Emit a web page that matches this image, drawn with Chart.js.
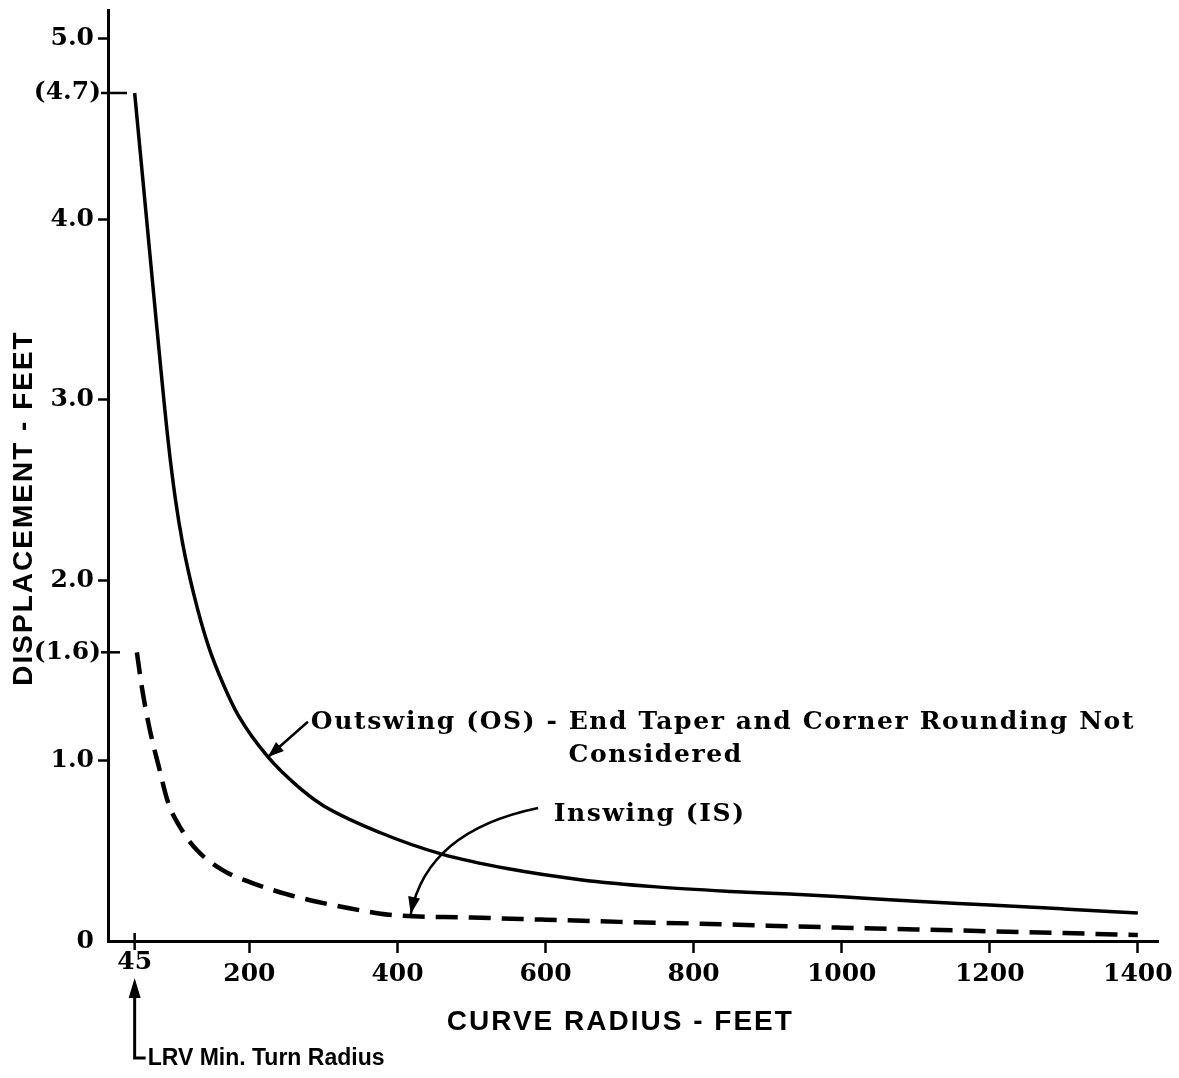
<!DOCTYPE html>
<html>
<head>
<meta charset="utf-8">
<script src="https://cdn.jsdelivr.net/npm/chart.js@4.4.1/dist/chart.umd.min.js"></script>
<style>
  html, body { margin: 0; padding: 0; background: #fff; }
  #wrap { width: 1179px; height: 1078px; }
</style>
</head>
<body>
<div id="wrap"><canvas id="chart" width="1179" height="1078"></canvas></div>
<script>
// curve radius (feet) -> displacement (feet)
const outswingRadius = [45, 60, 75, 90, 100, 110, 125, 145, 165, 185, 225, 270, 300, 377, 461, 550, 647, 750, 850, 930, 1000, 1100, 1200, 1300, 1400];
const outswingDisp   = [4.7, 4.05, 3.4, 2.78, 2.45, 2.2, 1.92, 1.63, 1.42, 1.25, 1.02, 0.84, 0.75, 0.6, 0.48, 0.4, 0.34, 0.3, 0.275, 0.26, 0.245, 0.22, 0.2, 0.178, 0.155];

const inswingRadius = [48, 55, 65, 78, 90, 108, 130, 165, 205, 250, 300, 350, 389, 500, 600, 700, 800, 900, 1000, 1100, 1200, 1300, 1400];
const inswingDisp   = [1.6, 1.4, 1.18, 0.96, 0.77, 0.62, 0.5, 0.39, 0.32, 0.26, 0.21, 0.17, 0.145, 0.13, 0.118, 0.106, 0.097, 0.085, 0.074, 0.064, 0.054, 0.044, 0.033];

const xTickValues = [45, 200, 400, 600, 800, 1000, 1200, 1400];
const yTickValues = [0, 1, 1.6, 2, 3, 4, 4.7, 5];
const yTickLabels = ["0", "1.0", "(1.6)", "2.0", "3.0", "4.0", "(4.7)", "5.0"];
const bracketTicks = [1.6, 4.7];
const minTurnRadius = 45;

const serif = "'DejaVu Serif', serif";
const sans = "'Liberation Sans', Arial, sans-serif";

function arrowHead(ctx, fx, fy, tx, ty, len, half) {
    let a = Math.atan2(ty - fy, tx - fx);
    ctx.beginPath();
    ctx.moveTo(tx, ty);
    ctx.lineTo(tx - len * Math.cos(a) + half * Math.sin(a), ty - len * Math.sin(a) - half * Math.cos(a));
    ctx.lineTo(tx - len * Math.cos(a) - half * Math.sin(a), ty - len * Math.sin(a) + half * Math.cos(a));
    ctx.closePath();
    ctx.fill();
}

const notes = {
    id: "notes",
    afterDraw(chart) {
        const ctx = chart.ctx;
        const xs = chart.scales.x, ys = chart.scales.y;
        const area = chart.chartArea;
        ctx.save();
        ctx.strokeStyle = "#000";
        ctx.fillStyle = "#000";

        // bracketed ticks cross into the plot, labels sit closer to the axis
        ctx.lineWidth = 2.5;
        ctx.font = "bold 25px " + serif;
        ctx.textAlign = "right";
        ctx.textBaseline = "middle";
        bracketTicks.forEach((v, i) => {
            let py = ys.getPixelForValue(v);
            ctx.beginPath();
            ctx.moveTo(area.left - 7, py);
            ctx.lineTo(area.left + (i ? 19 : 12), py);
            ctx.stroke();
            ctx.fillText(yTickLabels[yTickValues.indexOf(v)], area.left - 7, py);
        });

        // the 45 tick crosses the axis and its label sits a bit higher
        let lx = xs.getPixelForValue(minTurnRadius);
        ctx.beginPath();
        ctx.moveTo(lx, area.bottom - 8);
        ctx.lineTo(lx, area.bottom + 9);
        ctx.stroke();
        ctx.textAlign = "center";
        ctx.fillText(String(minTurnRadius), lx, area.bottom + 21);

        // axis titles
        ctx.font = "bold 28px " + sans;
        ctx.letterSpacing = "2px";
        ctx.fillText("CURVE RADIUS - FEET", xs.getPixelForValue(701), area.bottom + 81);
        ctx.save();
        ctx.translate(24, ys.getPixelForValue(2.4));
        ctx.rotate(-Math.PI / 2);
        ctx.fillText("DISPLACEMENT - FEET", 0, 0);
        ctx.restore();

        // curve labels
        ctx.font = "bold 25px " + serif;
        ctx.letterSpacing = "1.6px";
        ctx.textAlign = "left";
        ctx.fillText("Outswing (OS) - End Taper and Corner Rounding Not", xs.getPixelForValue(283), ys.getPixelForValue(1.21));
        ctx.fillText("Considered", xs.getPixelForValue(631), ys.getPixelForValue(1.03));
        ctx.fillText("Inswing (IS)", xs.getPixelForValue(611), ys.getPixelForValue(0.70));

        // outswing arrow
        ctx.lineWidth = 2.5;
        let ax0 = xs.getPixelForValue(279), ay0 = ys.getPixelForValue(1.215);
        let ax1 = xs.getPixelForValue(225), ay1 = ys.getPixelForValue(1.02);
        ctx.beginPath();
        ctx.moveTo(ax0, ay0);
        ctx.lineTo(ax1, ay1);
        ctx.stroke();
        arrowHead(ctx, ax0, ay0, ax1, ay1, 16, 6);

        // inswing arrow (curved)
        let bx0 = xs.getPixelForValue(590), by0 = ys.getPixelForValue(0.737);
        let bcx = xs.getPixelForValue(440), bcy = ys.getPixelForValue(0.61);
        let bx1 = xs.getPixelForValue(418), by1 = ys.getPixelForValue(0.15);
        ctx.beginPath();
        ctx.moveTo(bx0, by0);
        ctx.quadraticCurveTo(bcx, bcy, bx1, by1);
        ctx.stroke();
        arrowHead(ctx, bcx, bcy, bx1, by1, 17, 6);

        // LRV minimum turn radius pointer
        ctx.lineWidth = 3;
        ctx.beginPath();
        ctx.moveTo(lx, area.bottom + 50);
        ctx.lineTo(lx, area.bottom + 117);
        ctx.lineTo(lx + 11, area.bottom + 117);
        ctx.stroke();
        arrowHead(ctx, lx, area.bottom + 60, lx, area.bottom + 37, 20, 6);
        ctx.font = "900 23px " + sans;
        ctx.letterSpacing = "0px";
        ctx.textBaseline = "middle";
        ctx.fillText("LRV Min. Turn Radius", lx + 13, area.bottom + 118);

        ctx.restore();
    }
};

new Chart(document.getElementById("chart").getContext("2d"), {
    type: "line",
    data: {
        datasets: [
            {
                label: "Outswing (OS)",
                data: outswingRadius.map((r, i) => ({ x: r, y: outswingDisp[i] })),
                borderColor: "#000",
                borderWidth: 3.5,
                pointRadius: 0,
                cubicInterpolationMode: "monotone",
                fill: false
            },
            {
                label: "Inswing (IS)",
                data: inswingRadius.map((r, i) => ({ x: r, y: inswingDisp[i] })),
                borderColor: "#000",
                borderWidth: 4.5,
                borderDash: [22, 11],
                pointRadius: 0,
                cubicInterpolationMode: "monotone",
                fill: false
            }
        ]
    },
    options: {
        responsive: false,
        animation: false,
        layout: { padding: { top: 10, right: 20, left: 0, bottom: 0 } },
        plugins: {
            legend: { display: false },
            tooltip: { enabled: false }
        },
        scales: {
            x: {
                type: "linear",
                min: 9,
                max: 1428,
                afterBuildTicks: s => { s.ticks = xTickValues.map(v => ({ value: v })); },
                afterFit: s => { s.height = 137; },
                border: { display: true, color: "#000", width: 3 },
                grid: {
                    drawOnChartArea: false,
                    drawTicks: true,
                    tickLength: 12,
                    tickWidth: 2.5,
                    tickColor: c => (c.tick && c.tick.value === minTurnRadius ? "rgba(0,0,0,0)" : "#000")
                },
                ticks: {
                    color: "#000",
                    padding: 6,
                    maxRotation: 0,
                    autoSkip: false,
                    font: { family: serif, weight: "bold", size: 25 },
                    callback: v => (v === minTurnRadius ? "" : String(v))
                }
            },
            y: {
                type: "linear",
                min: 0,
                max: 5.16,
                afterBuildTicks: s => { s.ticks = yTickValues.map(v => ({ value: v })); },
                afterFit: s => { s.width = 108; s.paddingTop = 0; s.paddingBottom = 0; },
                border: { display: true, color: "#000", width: 3 },
                grid: {
                    drawOnChartArea: false,
                    drawTicks: true,
                    tickLength: 10,
                    tickWidth: 2.5,
                    tickColor: c => (c.tick && (c.tick.value === 0 || bracketTicks.includes(c.tick.value)) ? "rgba(0,0,0,0)" : "#000")
                },
                ticks: {
                    color: "#000",
                    padding: 4,
                    autoSkip: false,
                    font: { family: serif, weight: "bold", size: 25 },
                    callback: v => (bracketTicks.includes(v) ? "" : yTickLabels[yTickValues.indexOf(v)])
                }
            }
        }
    },
    plugins: [notes]
});
</script>
</body>
</html>
